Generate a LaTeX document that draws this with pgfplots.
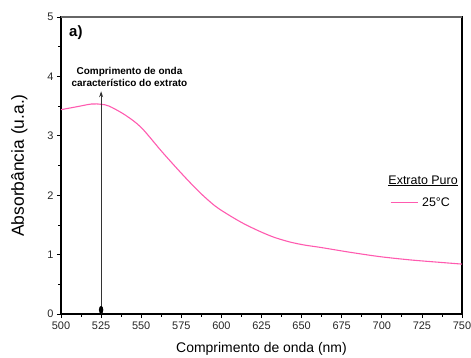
\documentclass[border=0pt]{standalone}
\usepackage{pgfplots}
\pgfplotsset{compat=1.18}
\usepackage{fontspec}
\setmainfont{Liberation Sans}
\usetikzlibrary{arrows.meta}
\definecolor{curvepink}{RGB}{255,90,175}
\begin{document}
\begin{tikzpicture}
\begin{axis}[
  at={(0,0)}, anchor=south west,
  scale only axis, width=401bp, height=297bp,
  xmin=500, xmax=750, ymin=0, ymax=5,
  xtick={500,525,...,750}, ytick={0,1,...,5},
  minor x tick num=1, minor y tick num=1,
  tick align=outside, xtick pos=left, ytick pos=left,
  major tick length=4bp, minor tick length=2.5bp,
  tick style={black, line width=0.8pt},
  axis line style={line width=1.3pt, black},
  /pgf/number format/assume math mode=true,
  ticklabel style={font=\fontsize{11}{13}\selectfont, text=black!85},
  xlabel={Comprimento de onda (nm)},
  ylabel={Absorbância (u.a.)},
  xlabel style={font=\fontsize{14}{16}\selectfont, yshift=-6bp},
  ylabel style={font=\fontsize{17.5}{19}\selectfont, yshift=13bp},
  clip=false,
]
\addplot[curvepink, line width=1.1pt, smooth] coordinates {
(500,3.44) (510,3.49) (519,3.535) (525,3.53) (530,3.50) (540,3.35) (550,3.14)
(563,2.73) (575,2.37) (586,2.06) (596,1.82) (605,1.66) (614,1.52) (624,1.39)
(633,1.29) (643,1.21) (652,1.16) (662,1.12) (680,1.04) (699,0.965) (718,0.91)
(736,0.87) (750,0.84)
};
\draw[black!60, line width=2pt] (rel axis cs:0,1) -- (rel axis cs:1,1);
\draw[black!80, line width=0.9pt, -{Stealth[length=6bp,width=4bp]}] (axis cs:525,0) -- (axis cs:525,3.75);
\fill[black] (axis cs:525,0.07) ellipse[x radius=2.2bp, y radius=4bp];
\node[font=\bfseries\fontsize{10}{12}\selectfont, align=center, inner sep=0pt, anchor=south] at (axis cs:542.7,3.83) {Comprimento de onda\\característico do extrato};
\node[font=\bfseries\fontsize{15}{17}\selectfont, anchor=north west, inner sep=0pt] at (axis cs:505.0,4.86) {a)};
\node[font=\fontsize{12.5}{14}\selectfont, inner sep=1pt] at (rel axis cs:0.903,0.448) {\underline{Extrato Puro}};
\draw[curvepink, line width=1.1pt] (rel axis cs:0.822,0.375) -- (rel axis cs:0.891,0.375);
\node[font=\fontsize{12.5}{14}\selectfont, anchor=west, inner sep=0pt] at (rel axis cs:0.9,0.375) {25°C};
\end{axis}
\pgfresetboundingbox
\path[use as bounding box] (-61bp,-44bp) rectangle (410bp,314bp);
\end{tikzpicture}
\end{document}
